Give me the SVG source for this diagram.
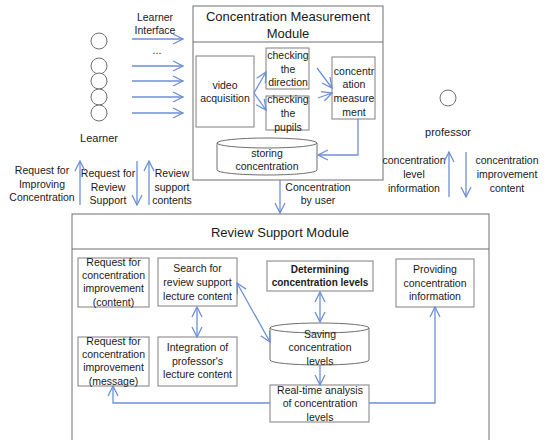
<svg xmlns="http://www.w3.org/2000/svg" width="550" height="440" viewBox="0 0 550 440">
<defs>
<marker id="ah" viewBox="0 0 12 12" refX="11" refY="6" markerWidth="12" markerHeight="12" markerUnits="userSpaceOnUse" orient="auto-start-reverse">
<path d="M1,1 L11,6 L1,11" fill="none" stroke="#6d8fd6" stroke-width="1.3"/>
</marker>
<style>
text{font-family:"Liberation Sans",Arial,sans-serif;font-size:10.5px;fill:#1a1a1a;text-anchor:middle}
.t{font-size:13px}
.l{font-size:11px}
.b{font-weight:bold;font-size:10px}
.box{fill:#fff;stroke:#7f7f7f;stroke-width:1}
.mod{fill:#fff;stroke:#6f6f6f;stroke-width:1}
.c{fill:#fff;stroke:#6f6f6f;stroke-width:1}
.a{fill:none;stroke:#6d8fd6;stroke-width:1.3;marker-end:url(#ah)}
.d{fill:none;stroke:#6d8fd6;stroke-width:1.3;marker-end:url(#ah);marker-start:url(#ah)}
.p{fill:none;stroke:#6d8fd6;stroke-width:1.3}
</style>
</defs>
<rect width="550" height="440" fill="#fff"/>

<g id="learner">
<circle class="c" cx="99" cy="41" r="8"/>
<circle class="c" cx="99" cy="66" r="8"/>
<circle class="c" cx="99" cy="81" r="8"/>
<circle class="c" cx="99" cy="97" r="8"/>
<circle class="c" cx="99" cy="113" r="8"/>
<text class="l" x="99" y="142">Learner</text>
</g>

<g id="professor">
<circle class="c" cx="448" cy="98" r="8"/>
<text class="l" x="448" y="136">professor</text>
</g>

<g id="cmm">
<rect class="mod" x="193" y="6" width="190" height="174"/>
<line x1="193" y1="42" x2="383" y2="42" stroke="#6f6f6f"/>
<text class="t" x="288" y="21">Concentration Measurement</text>
<text class="t" x="288" y="38">Module</text>
</g>

<g id="video">
<rect class="box" x="196" y="56" width="58" height="71"/>
<text x="225" y="89">video</text>
<text x="225" y="102">acquisition</text>
</g>

<g id="direction">
<rect class="box" x="266" y="48" width="43" height="41"/>
<text x="288" y="59">checking</text>
<text x="288" y="73">the</text>
<text x="288" y="86">direction</text>
</g>

<g id="pupils">
<rect class="box" x="266" y="96" width="43" height="34"/>
<text x="288" y="103">checking</text>
<text x="288" y="117">the</text>
<text x="288" y="131">pupils</text>
</g>

<g id="measure">
<rect class="box" x="332" y="57" width="43" height="62"/>
<text x="354" y="75">concentr</text>
<text x="354" y="88">ation</text>
<text x="354" y="102">measure</text>
<text x="354" y="116">ment</text>
</g>

<g id="storing">
<path class="c" d="M217,143 L217,170 A50,5 0 0 0 317,170 L317,143"/>
<ellipse class="c" cx="267" cy="143" rx="50" ry="5"/>
<text x="267" y="157">storing</text>
<text x="267" y="170">concentration</text>
</g>

<g id="rsm">
<rect class="mod" x="72" y="214" width="417" height="240"/>
<line x1="72" y1="249" x2="489" y2="249" stroke="#6f6f6f"/>
<text class="t" x="280" y="237">Review Support Module</text>
</g>

<g id="reqContent">
<rect class="box" x="78" y="258" width="71" height="49"/>
<text x="113.5" y="266">Request for</text>
<text x="113.5" y="279">concentration</text>
<text x="113.5" y="292">improvement</text>
<text x="113.5" y="306">(content)</text>
</g>

<g id="search">
<rect class="box" x="158" y="258" width="79" height="48"/>
<text x="197.5" y="272">Search for</text>
<text x="197.5" y="286">review support</text>
<text x="197.5" y="300">lecture content</text>
</g>

<g id="reqMessage">
<rect class="box" x="78" y="337" width="71" height="49"/>
<text x="113.5" y="345">Request for</text>
<text x="113.5" y="358">concentration</text>
<text x="113.5" y="371">improvement</text>
<text x="113.5" y="385">(message)</text>
</g>

<g id="integration">
<rect class="box" x="158" y="337" width="79" height="49"/>
<text x="197.5" y="351">Integration of</text>
<text x="197.5" y="365">professor's</text>
<text x="197.5" y="378">lecture content</text>
</g>

<g id="determining">
<rect class="box" x="267" y="261" width="106" height="30"/>
<text class="b" x="320" y="273">Determining</text>
<text class="b" x="320" y="286">concentration levels</text>
</g>

<g id="providing">
<rect class="box" x="396" y="259" width="78" height="48"/>
<text x="435" y="273">Providing</text>
<text x="435" y="287">concentration</text>
<text x="435" y="300">information</text>
</g>

<g id="saving">
<path class="c" d="M270,328 L270,360 A49.5,5 0 0 0 369,360 L369,328"/>
<ellipse class="c" cx="319.5" cy="328" rx="49.5" ry="5"/>
<text x="320" y="338">Saving</text>
<text x="320" y="351">concentration</text>
<text x="320" y="365">levels</text>
</g>

<g id="realtime">
<rect class="box" x="270" y="385" width="99" height="37"/>
<text x="320" y="394">Real-time analysis</text>
<text x="320" y="407">of concentration</text>
<text x="320" y="421">levels</text>
</g>

<g id="labels">
<text x="155" y="21">Learner</text>
<text x="155" y="34">Interface</text>
<text x="157" y="54">...</text>
<text x="42" y="174">Request for</text>
<text x="42" y="188">Improving</text>
<text x="42" y="201">Concentration</text>
<text x="108" y="177">Request for</text>
<text x="108" y="191">Review</text>
<text x="108" y="204">Support</text>
<text x="172" y="177">Review</text>
<text x="172" y="191">support</text>
<text x="172" y="204">contents</text>
<text x="318" y="191">Concentration</text>
<text x="318" y="204">by user</text>
<text x="414" y="164">concentration</text>
<text x="414" y="178">level</text>
<text x="414" y="192">information</text>
<text x="507" y="164">concentration</text>
<text x="507" y="178">improvement</text>
<text x="507" y="192">content</text>
</g>

<g id="connectors">
<line class="a" x1="132" y1="39" x2="183" y2="39"/>
<line class="a" x1="132" y1="66" x2="183" y2="66"/>
<line class="a" x1="132" y1="81" x2="183" y2="81"/>
<line class="a" x1="132" y1="97" x2="183" y2="97"/>
<line class="a" x1="132" y1="113" x2="183" y2="113"/>
<line class="a" x1="254" y1="93" x2="266" y2="72"/>
<line class="a" x1="254" y1="93" x2="266" y2="110"/>
<line class="a" x1="317" y1="68" x2="332" y2="88"/>
<line class="a" x1="318" y1="98" x2="332" y2="93"/>
<polyline class="a" points="358,119 358,155 318,155"/>
<line class="a" x1="80" y1="205" x2="80" y2="161"/>
<line class="a" x1="137" y1="161" x2="137" y2="205"/>
<line class="a" x1="149" y1="205" x2="149" y2="161"/>
<line class="a" x1="280" y1="180" x2="280" y2="213"/>
<line class="a" x1="449" y1="197" x2="449" y2="152"/>
<line class="a" x1="466" y1="152" x2="466" y2="197"/>
<line class="d" x1="197" y1="307" x2="197" y2="337"/>
<line class="d" x1="237" y1="283" x2="270" y2="342"/>
<line class="d" x1="320" y1="292" x2="320" y2="322"/>
<line class="a" x1="320" y1="365" x2="320" y2="385"/>
<polyline class="a" points="369,403 435,403 435,307"/>
<polyline class="a" points="270,403 113,403 113,386"/>
</g>
</svg>
